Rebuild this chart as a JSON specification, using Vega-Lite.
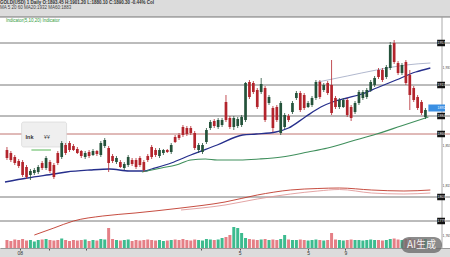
{
  "$schema": "https://vega.github.io/schema/vega-lite/v6.json",
  "width": 450,
  "height": 231,
  "autosize": "none",
  "padding": {"top": 17, "bottom": 9, "left": 0, "right": 0},
  "background": "#dcdcdc",
  "view": {"fill": "#ffffff", "stroke": null},
  "config": {"font": "Liberation Sans"},
  "title": {
    "text": "GOLD(USD) 1 Daily O:1893.45 H:1901.20 L:1880.10 C:1890.30 -0.44% Col",
    "subtitle": "MA 5 20 60 MA20:1932 MA60:1883",
    "anchor": "start", "frame": "group", "fontSize": 4.5, "subtitleFontSize": 4.5,
    "fontWeight": "bold", "color": "#333333", "subtitleColor": "#444444",
    "offset": 7, "subtitlePadding": 0.5, "dx": 0
  },
  "datasets": {
    "candles": [
      {"t":0,"o":1850,"h":1853,"l":1840,"c":1842,"v":800},
      {"t":1,"o":1847,"h":1849,"l":1838,"c":1840,"v":700},
      {"t":2,"o":1843,"h":1845,"l":1835,"c":1837,"v":850},
      {"t":3,"o":1839,"h":1841,"l":1832,"c":1834,"v":800},
      {"t":4,"o":1838,"h":1840,"l":1823,"c":1825,"v":900},
      {"t":5,"o":1833,"h":1835,"l":1821,"c":1823,"v":750},
      {"t":6,"o":1825,"h":1831,"l":1820,"c":1829,"v":800},
      {"t":7,"o":1827,"h":1832,"l":1825,"c":1830,"v":650},
      {"t":8,"o":1828,"h":1835,"l":1826,"c":1833,"v":800},
      {"t":9,"o":1837,"h":1839,"l":1830,"c":1832,"v":850},
      {"t":10,"o":1832,"h":1844,"l":1830,"c":1842,"v":900},
      {"t":11,"o":1838,"h":1840,"l":1827,"c":1829,"v":800},
      {"t":12,"o":1835,"h":1837,"l":1821,"c":1823,"v":750},
      {"t":13,"o":1847,"h":1849,"l":1835,"c":1837,"v":800},
      {"t":14,"o":1843,"h":1859,"l":1841,"c":1857,"v":950},
      {"t":15,"o":1855,"h":1857,"l":1845,"c":1847,"v":800},
      {"t":16,"o":1857,"h":1859,"l":1848,"c":1850,"v":700},
      {"t":17,"o":1854,"h":1856,"l":1849,"c":1850,"v":800},
      {"t":18,"o":1851,"h":1853,"l":1846,"c":1847,"v":750},
      {"t":19,"o":1849,"h":1850,"l":1842,"c":1844,"v":800},
      {"t":20,"o":1843,"h":1849,"l":1841,"c":1847,"v":850},
      {"t":21,"o":1848,"h":1850,"l":1842,"c":1844,"v":700},
      {"t":22,"o":1845,"h":1851,"l":1844,"c":1849,"v":800},
      {"t":23,"o":1849,"h":1850,"l":1844,"c":1846,"v":750},
      {"t":24,"o":1845,"h":1859,"l":1843,"c":1857,"v":900},
      {"t":25,"o":1854,"h":1862,"l":1852,"c":1860,"v":850},
      {"t":26,"o":1852,"h":1854,"l":1828,"c":1837,"v":2000},
      {"t":27,"o":1844,"h":1846,"l":1837,"c":1839,"v":900},
      {"t":28,"o":1838,"h":1844,"l":1836,"c":1842,"v":800},
      {"t":29,"o":1838,"h":1840,"l":1832,"c":1833,"v":750},
      {"t":30,"o":1832,"h":1838,"l":1830,"c":1836,"v":800},
      {"t":31,"o":1835,"h":1845,"l":1833,"c":1843,"v":850},
      {"t":32,"o":1840,"h":1842,"l":1834,"c":1836,"v":700},
      {"t":33,"o":1840,"h":1842,"l":1831,"c":1833,"v":800},
      {"t":34,"o":1842,"h":1844,"l":1833,"c":1835,"v":750},
      {"t":35,"o":1838,"h":1840,"l":1828,"c":1830,"v":800},
      {"t":36,"o":1844,"h":1846,"l":1838,"c":1840,"v":850},
      {"t":37,"o":1853,"h":1855,"l":1841,"c":1843,"v":800},
      {"t":38,"o":1850,"h":1852,"l":1843,"c":1845,"v":750},
      {"t":39,"o":1844,"h":1852,"l":1842,"c":1850,"v":800},
      {"t":40,"o":1847,"h":1851,"l":1845,"c":1850,"v":700},
      {"t":41,"o":1850,"h":1851,"l":1847,"c":1848,"v":750},
      {"t":42,"o":1848,"h":1857,"l":1846,"c":1855,"v":800},
      {"t":43,"o":1863,"h":1865,"l":1857,"c":1858,"v":850},
      {"t":44,"o":1865,"h":1867,"l":1860,"c":1862,"v":800},
      {"t":45,"o":1873,"h":1875,"l":1863,"c":1865,"v":900},
      {"t":46,"o":1872,"h":1874,"l":1864,"c":1866,"v":800},
      {"t":47,"o":1872,"h":1874,"l":1865,"c":1867,"v":750},
      {"t":48,"o":1867,"h":1869,"l":1850,"c":1852,"v":850},
      {"t":49,"o":1850,"h":1857,"l":1847,"c":1855,"v":800},
      {"t":50,"o":1848,"h":1857,"l":1846,"c":1855,"v":750},
      {"t":51,"o":1858,"h":1872,"l":1856,"c":1870,"v":900},
      {"t":52,"o":1872,"h":1880,"l":1870,"c":1878,"v":850},
      {"t":53,"o":1879,"h":1881,"l":1872,"c":1874,"v":800},
      {"t":54,"o":1873,"h":1882,"l":1871,"c":1880,"v":850},
      {"t":55,"o":1875,"h":1882,"l":1873,"c":1880,"v":1000},
      {"t":56,"o":1898,"h":1905,"l":1878,"c":1880,"v":1100},
      {"t":57,"o":1882,"h":1884,"l":1871,"c":1873,"v":1300},
      {"t":58,"o":1873,"h":1884,"l":1870,"c":1882,"v":2100},
      {"t":59,"o":1874,"h":1883,"l":1872,"c":1881,"v":2000},
      {"t":60,"o":1875,"h":1885,"l":1873,"c":1883,"v":1500},
      {"t":61,"o":1880,"h":1918,"l":1878,"c":1917,"v":1000},
      {"t":62,"o":1918,"h":1920,"l":1901,"c":1903,"v":900},
      {"t":63,"o":1917,"h":1919,"l":1906,"c":1908,"v":850},
      {"t":64,"o":1910,"h":1912,"l":1891,"c":1893,"v":800},
      {"t":65,"o":1908,"h":1922,"l":1906,"c":1916,"v":850},
      {"t":66,"o":1912,"h":1914,"l":1878,"c":1880,"v":900},
      {"t":67,"o":1897,"h":1905,"l":1895,"c":1903,"v":800},
      {"t":68,"o":1892,"h":1894,"l":1868,"c":1872,"v":850},
      {"t":69,"o":1893,"h":1895,"l":1878,"c":1880,"v":800},
      {"t":70,"o":1867,"h":1899,"l":1865,"c":1897,"v":900},
      {"t":71,"o":1873,"h":1887,"l":1871,"c":1885,"v":1300},
      {"t":72,"o":1884,"h":1886,"l":1878,"c":1880,"v":850},
      {"t":73,"o":1888,"h":1899,"l":1886,"c":1897,"v":800},
      {"t":74,"o":1902,"h":1909,"l":1900,"c":1907,"v":800},
      {"t":75,"o":1907,"h":1909,"l":1888,"c":1890,"v":850},
      {"t":76,"o":1905,"h":1907,"l":1890,"c":1892,"v":800},
      {"t":77,"o":1893,"h":1899,"l":1892,"c":1897,"v":750},
      {"t":78,"o":1895,"h":1904,"l":1893,"c":1902,"v":800},
      {"t":79,"o":1902,"h":1920,"l":1900,"c":1918,"v":850},
      {"t":80,"o":1918,"h":1920,"l":1901,"c":1903,"v":800},
      {"t":81,"o":1910,"h":1917,"l":1908,"c":1915,"v":750},
      {"t":82,"o":1917,"h":1919,"l":1905,"c":1907,"v":800},
      {"t":83,"o":1915,"h":1940,"l":1885,"c":1887,"v":1500},
      {"t":84,"o":1902,"h":1904,"l":1891,"c":1893,"v":850},
      {"t":85,"o":1893,"h":1902,"l":1891,"c":1900,"v":800},
      {"t":86,"o":1893,"h":1902,"l":1892,"c":1900,"v":750},
      {"t":87,"o":1900,"h":1902,"l":1883,"c":1885,"v":800},
      {"t":88,"o":1893,"h":1895,"l":1879,"c":1882,"v":850},
      {"t":89,"o":1888,"h":1899,"l":1886,"c":1897,"v":800},
      {"t":90,"o":1897,"h":1910,"l":1895,"c":1908,"v":800},
      {"t":91,"o":1902,"h":1910,"l":1900,"c":1908,"v":750},
      {"t":92,"o":1903,"h":1912,"l":1901,"c":1910,"v":800},
      {"t":93,"o":1910,"h":1920,"l":1908,"c":1918,"v":850},
      {"t":94,"o":1915,"h":1924,"l":1913,"c":1922,"v":800},
      {"t":95,"o":1930,"h":1932,"l":1921,"c":1923,"v":800},
      {"t":96,"o":1930,"h":1932,"l":1918,"c":1920,"v":750},
      {"t":97,"o":1923,"h":1935,"l":1921,"c":1933,"v":800},
      {"t":98,"o":1932,"h":1958,"l":1930,"c":1955,"v":900},
      {"t":99,"o":1957,"h":1960,"l":1936,"c":1938,"v":950},
      {"t":100,"o":1937,"h":1939,"l":1925,"c":1927,"v":850},
      {"t":101,"o":1927,"h":1937,"l":1925,"c":1935,"v":800},
      {"t":102,"o":1938,"h":1940,"l":1915,"c":1917,"v":900},
      {"t":103,"o":1925,"h":1930,"l":1890,"c":1905,"v":950},
      {"t":104,"o":1912,"h":1914,"l":1898,"c":1900,"v":850},
      {"t":105,"o":1903,"h":1905,"l":1890,"c":1892,"v":800},
      {"t":106,"o":1898,"h":1900,"l":1885,"c":1887,"v":850},
      {"t":107,"o":1883,"h":1892,"l":1881,"c":1890,"v":900}
    ],
    "ma": [
      {"s":"MA20","t":-0.5,"p":1818},{"s":"MA20","t":5.25,"p":1822},{"s":"MA20","t":12,"p":1826},
      {"s":"MA20","t":15.25,"p":1828},{"s":"MA20","t":21.25,"p":1830},{"s":"MA20","t":26.25,"p":1831},
      {"s":"MA20","t":31.25,"p":1829},{"s":"MA20","t":35.25,"p":1829},{"s":"MA20","t":37,"p":1831},
      {"s":"MA20","t":42,"p":1837},{"s":"MA20","t":47,"p":1845},{"s":"MA20","t":53.75,"p":1855},
      {"s":"MA20","t":60.25,"p":1865},{"s":"MA20","t":63.75,"p":1866},{"s":"MA20","t":68.75,"p":1868},
      {"s":"MA20","t":72,"p":1872},{"s":"MA20","t":76.25,"p":1883},{"s":"MA20","t":80.25,"p":1893},
      {"s":"MA20","t":83.25,"p":1898},{"s":"MA20","t":87,"p":1902},{"s":"MA20","t":90.75,"p":1906},
      {"s":"MA20","t":94.5,"p":1912},{"s":"MA20","t":99.5,"p":1920},{"s":"MA20","t":104.5,"p":1928},
      {"s":"MA20","t":108.25,"p":1932},
      {"s":"MA10","t":79.5,"p":1918},{"s":"MA10","t":87,"p":1924},{"s":"MA10","t":94.5,"p":1930},
      {"s":"MA10","t":102,"p":1935},{"s":"MA10","t":108.25,"p":1937},
      {"s":"MA60","t":34.5,"p":1828},{"s":"MA60","t":39.5,"p":1832},{"s":"MA60","t":43.25,"p":1835},
      {"s":"MA60","t":47,"p":1840},{"s":"MA60","t":50.75,"p":1841},{"s":"MA60","t":53.75,"p":1840},
      {"s":"MA60","t":59.5,"p":1840},{"s":"MA60","t":64.5,"p":1841},{"s":"MA60","t":70.25,"p":1843},
      {"s":"MA60","t":77,"p":1848},{"s":"MA60","t":82,"p":1852},{"s":"MA60","t":88.25,"p":1859},
      {"s":"MA60","t":94.5,"p":1866},{"s":"MA60","t":100.75,"p":1874},{"s":"MA60","t":107.75,"p":1883}
    ],
    "ind": [
      {"s":"VMA5","t":7,"v":13},{"s":"VMA5","t":12,"v":20},{"s":"VMA5","t":17,"v":27},
      {"s":"VMA5","t":24.5,"v":32},{"s":"VMA5","t":32.75,"v":35},{"s":"VMA5","t":44.5,"v":40},
      {"s":"VMA5","t":55.75,"v":46},{"s":"VMA5","t":64,"v":53},{"s":"VMA5","t":72.5,"v":58},
      {"s":"VMA5","t":79.5,"v":59.5},{"s":"VMA5","t":85,"v":60},{"s":"VMA5","t":93.25,"v":58},
      {"s":"VMA5","t":101.5,"v":57},{"s":"VMA5","t":108.25,"v":58},
      {"s":"VMA10","t":44.5,"v":38},{"s":"VMA10","t":55.75,"v":43},{"s":"VMA10","t":64,"v":49},
      {"s":"VMA10","t":72.5,"v":54},{"s":"VMA10","t":79.5,"v":57},{"s":"VMA10","t":85,"v":58.5},
      {"s":"VMA10","t":93.25,"v":55},{"s":"VMA10","t":101.5,"v":54},{"s":"VMA10","t":108.25,"v":55}
    ],
    "levels": [{"p":1983},{"p":1957},{"p":1915},{"p":1884},{"p":1866},{"p":1803},{"p":1779}],
    "last": [{"p":1892}]
  },
  "layer": [
    {
      "layer": [
        {
          "data": {"name": "candles"},
          "mark": {"type": "bar", "width": 2.7},
          "encoding": {
            "x": {"field": "t", "type": "quantitative", "scale": {"domain": [-0.5, 112], "nice": false, "zero": false},
              "axis": {"values": [3.25, 10.75, 20.25, 49.5, 59.5, 77, 86.5], "labelExpr": "datum.value == 3.25 ? '08' : datum.value == 59.5 ? '5' : datum.value == 77 ? '5' : datum.value == 86.5 ? '9' : ''", "labelFontSize": 5, "labelColor": "#333333", "labelPadding": 0, "tickSize": 2, "tickColor": "#555555", "domainColor": "#999999", "grid": false, "labelFlush": false, "labelOverlap": false, "title": null}},
            "y": {"field": "o", "type": "quantitative", "scale": {"domain": [1752, 1983], "nice": false, "zero": false},
              "axis": {"orient": "right", "offset": -8.5, "values": [1976, 1967, 1943, 1933, 1922, 1900, 1876, 1855, 1845, 1835, 1825, 1815, 1807, 1795, 1787, 1765], "labelFontSize": 3.5, "labelColor": "#444444", "labelPadding": 0.5, "ticks": false, "domainColor": "#aaaaaa", "grid": false, "labelAlign": "left", "labelBaseline": "middle", "labelOverlap": false, "labelBound": false, "labelFlush": false, "title": null}},
            "y2": {"field": "c"},
            "opacity": {"value": 0}
          }
        },
        {
          "data": {"name": "levels"},
          "mark": {"type": "rule", "strokeWidth": 0.8},
          "encoding": {
            "y": {"field": "p", "type": "quantitative", "scale": {"domain": [1752, 1983], "nice": false, "zero": false}},
            "color": {"condition": {"test": "datum.p == 1866", "value": "#b0504c"}, "value": "#555555"}
          }
        },
        {
          "data": {"name": "ma"},
          "mark": {"type": "line", "interpolate": "monotone"},
          "encoding": {
            "x": {"field": "t", "type": "quantitative", "scale": {"domain": [-0.5, 112], "nice": false, "zero": false}},
            "y": {"field": "p", "type": "quantitative", "scale": {"domain": [1752, 1983], "nice": false, "zero": false}},
            "color": {"field": "s", "type": "nominal", "scale": {"domain": ["MA20", "MA60", "MA10", "VMA5", "VMA10"], "range": ["#262f8c", "#3f8f5c", "#a8b0c8", "#c0392b", "#e09a9a"]}, "legend": null},
            "strokeWidth": {"field": "s", "type": "nominal", "scale": {"domain": ["MA20", "MA60", "MA10"], "range": [1.3, 0.9, 0.8]}, "legend": null}
          }
        },
        {
          "data": {"values": [{}]},
          "mark": {"type": "rect", "fill": "#efefef", "stroke": "#d2d2d2", "strokeWidth": 0.6, "cornerRadius": 2},
          "encoding": {
            "x": {"datum": 3.75, "type": "quantitative", "scale": {"domain": [-0.5, 112], "nice": false, "zero": false}},
            "x2": {"datum": 15.25},
            "y": {"datum": 1878, "type": "quantitative", "scale": {"domain": [1752, 1983], "nice": false, "zero": false}},
            "y2": {"datum": 1853}
          }
        },
        {
          "data": {"values": [{}]},
          "mark": {"type": "rule", "color": "#8fcf8f", "strokeWidth": 1.5},
          "encoding": {
            "x": {"datum": 6.25, "type": "quantitative", "scale": {"domain": [-0.5, 112], "nice": false, "zero": false}},
            "x2": {"datum": 11.25},
            "y": {"datum": 1850, "type": "quantitative", "scale": {"domain": [1752, 1983], "nice": false, "zero": false}}
          }
        },
        {
          "data": {"values": [{}]},
          "mark": {"type": "text", "text": "Ink", "fontSize": 5.5, "fontWeight": "bold", "color": "#333333", "align": "left", "baseline": "middle"},
          "encoding": {
            "x": {"datum": 4.75, "type": "quantitative", "scale": {"domain": [-0.5, 112], "nice": false, "zero": false}},
            "y": {"datum": 1863, "type": "quantitative", "scale": {"domain": [1752, 1983], "nice": false, "zero": false}}
          }
        },
        {
          "data": {"values": [{}]},
          "mark": {"type": "text", "text": "¥¥", "fontSize": 5, "color": "#333333", "align": "left", "baseline": "middle"},
          "encoding": {
            "x": {"datum": 9.5, "type": "quantitative", "scale": {"domain": [-0.5, 112], "nice": false, "zero": false}},
            "y": {"datum": 1863, "type": "quantitative", "scale": {"domain": [1752, 1983], "nice": false, "zero": false}}
          }
        },
        {
          "data": {"values": [{}]},
          "mark": {"type": "text", "text": "Indicator(5,10,20) Indicator", "fontSize": 4.5, "color": "#2f9a3c", "align": "left", "baseline": "middle"},
          "encoding": {
            "x": {"datum": -0.25, "type": "quantitative", "scale": {"domain": [-0.5, 112], "nice": false, "zero": false}},
            "y": {"datum": 1979, "type": "quantitative", "scale": {"domain": [1752, 1983], "nice": false, "zero": false}}
          }
        },
        {
          "data": {"name": "candles"},
          "mark": {"type": "rule", "strokeWidth": 0.8},
          "encoding": {
            "x": {"field": "t", "type": "quantitative", "scale": {"domain": [-0.5, 112], "nice": false, "zero": false}},
            "y": {"field": "l", "type": "quantitative", "scale": {"domain": [1752, 1983], "nice": false, "zero": false}},
            "y2": {"field": "h"},
            "color": {"condition": {"test": "datum.c >= datum.o", "value": "#24523a"}, "value": "#b3242c"}
          }
        },
        {
          "data": {"name": "candles"},
          "mark": {"type": "bar", "width": 2.7},
          "encoding": {
            "x": {"field": "t", "type": "quantitative", "scale": {"domain": [-0.5, 112], "nice": false, "zero": false}},
            "y": {"field": "o", "type": "quantitative", "scale": {"domain": [1752, 1983], "nice": false, "zero": false}},
            "y2": {"field": "c"},
            "color": {"condition": {"test": "datum.c >= datum.o", "value": "#24523a"}, "value": "#b3242c"}
          }
        },
        {
          "data": {"name": "levels"},
          "transform": [{"filter": "datum.p < 1980"}],
          "mark": {"type": "rule", "strokeWidth": 6.5, "color": "#111111", "strokeCap": "butt"},
          "encoding": {
            "x": {"datum": 110.0, "type": "quantitative", "scale": {"domain": [-0.5, 112], "nice": false, "zero": false}},
            "x2": {"datum": 112},
            "y": {"field": "p", "type": "quantitative", "scale": {"domain": [1752, 1983], "nice": false, "zero": false}}
          }
        },
        {
          "data": {"name": "levels"},
          "transform": [{"filter": "datum.p < 1980"}],
          "mark": {"type": "text", "fontSize": 3.5, "color": "#ffffff", "align": "left", "baseline": "middle"},
          "encoding": {
            "x": {"datum": 110.1, "type": "quantitative", "scale": {"domain": [-0.5, 112], "nice": false, "zero": false}},
            "y": {"field": "p", "type": "quantitative", "scale": {"domain": [1752, 1983], "nice": false, "zero": false}},
            "text": {"field": "p", "type": "quantitative", "format": "d"}
          }
        },
        {
          "data": {"name": "last"},
          "mark": {"type": "rule", "strokeWidth": 7, "color": "#3a8fe3", "strokeCap": "butt"},
          "encoding": {
            "x": {"datum": 107.75, "type": "quantitative", "scale": {"domain": [-0.5, 112], "nice": false, "zero": false}},
            "x2": {"datum": 112},
            "y": {"field": "p", "type": "quantitative", "scale": {"domain": [1752, 1983], "nice": false, "zero": false}}
          }
        },
        {
          "data": {"name": "last"},
          "mark": {"type": "text", "fontSize": 3.5, "color": "#ffffff", "align": "left", "baseline": "middle"},
          "encoding": {
            "x": {"datum": 110.1, "type": "quantitative", "scale": {"domain": [-0.5, 112], "nice": false, "zero": false}},
            "y": {"field": "p", "type": "quantitative", "scale": {"domain": [1752, 1983], "nice": false, "zero": false}},
            "text": {"field": "p", "type": "quantitative", "format": "d"}
          }
        }
      ]
    },
    {
      "layer": [
        {
          "data": {"name": "candles"},
          "mark": {"type": "bar", "width": 3},
          "encoding": {
            "x": {"field": "t", "type": "quantitative", "scale": {"domain": [-0.5, 112], "nice": false, "zero": false}},
            "y": {"field": "v", "type": "quantitative", "scale": {"domain": [0, 23100], "nice": false, "zero": false}, "axis": null, "stack": null},
            "color": {"condition": {"test": "datum.c >= datum.o", "value": "#3dbb8f"}, "value": "#e57f86"}
          }
        },
        {
          "data": {"values": [{}]},
          "mark": {"type": "rect", "fill": "#6a6a6a", "opacity": 0.78, "cornerRadius": 8},
          "encoding": {
            "x": {"datum": 100.75, "type": "quantitative", "scale": {"domain": [-0.5, 112], "nice": false, "zero": false}},
            "x2": {"datum": 111.25},
            "y": {"datum": 1100, "type": "quantitative", "scale": {"domain": [0, 23100], "nice": false, "zero": false}, "axis": null},
            "y2": {"datum": -500}
          }
        },
        {
          "data": {"values": [{}]},
          "mark": {"type": "text", "text": "AI生成", "font": "Noto Sans CJK SC", "fontSize": 10, "color": "#f2f2f2", "align": "center", "baseline": "middle"},
          "encoding": {
            "x": {"datum": 106, "type": "quantitative", "scale": {"domain": [-0.5, 112], "nice": false, "zero": false}},
            "y": {"datum": 300, "type": "quantitative", "scale": {"domain": [0, 23100], "nice": false, "zero": false}, "axis": null}
          }
        }
      ]
    },
    {
      "data": {"name": "ind"},
      "mark": {"type": "line", "strokeWidth": 0.9, "interpolate": "monotone"},
      "encoding": {
        "x": {"field": "t", "type": "quantitative", "scale": {"domain": [-0.5, 112], "nice": false, "zero": false}},
        "y": {"field": "v", "type": "quantitative", "scale": {"domain": [0, 231], "nice": false, "zero": false}, "axis": null},
        "color": {"field": "s", "type": "nominal", "scale": {"domain": ["MA20", "MA60", "MA10", "VMA5", "VMA10"], "range": ["#262f8c", "#3f8f5c", "#a8b0c8", "#c0392b", "#e09a9a"]}, "legend": null}
      }
    }
  ],
  "resolve": {"scale": {"y": "independent"}, "axis": {"y": "independent"}}
}
